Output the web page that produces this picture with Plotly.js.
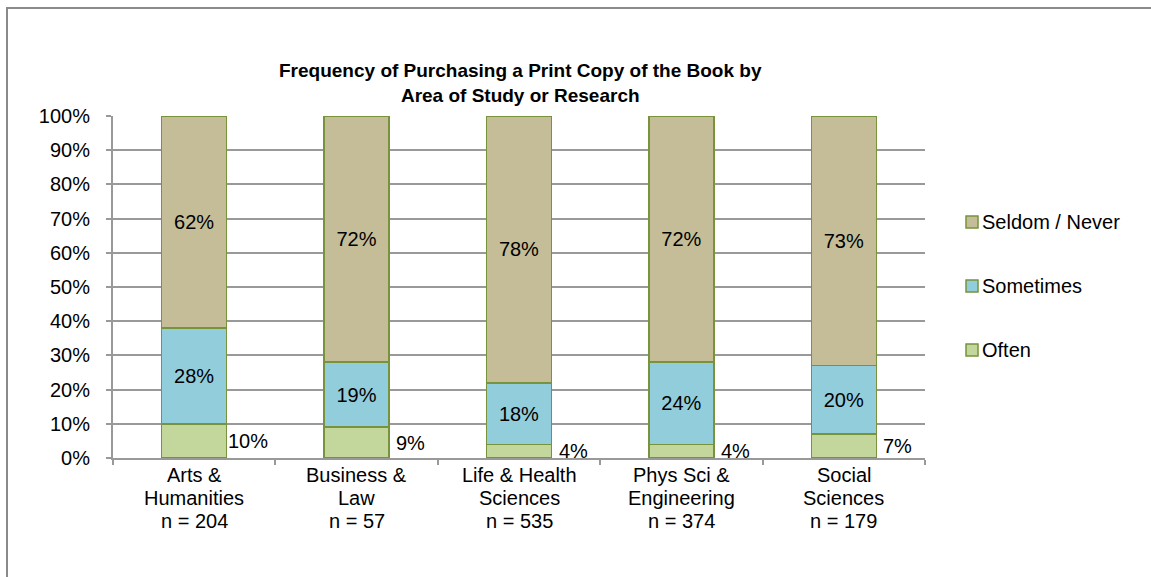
<!DOCTYPE html>
<html>
<head>
<meta charset="utf-8">
<script src="https://cdn.plot.ly/plotly-3.0.1.min.js"></script>
<style>
  html, body { margin: 0; padding: 0; background: #fff; overflow: hidden; }
  #wrap { position: relative; width: 1151px; height: 577px; overflow: hidden; }
  #chart { width: 1151px; height: 577px; }
  #frame { position: absolute; left: 6px; top: 7px; width: 1300px; height: 800px;
           border: 2px solid #8a8a8a; pointer-events: none; box-sizing: border-box; }
</style>
</head>
<body>
<div id="wrap">
  <div id="chart"></div>
  <div id="frame"></div>
</div>
<script>
const categories = ["Arts & Humanities", "Business & Law", "Life & Health Sciences",
                    "Phys Sci & Engineering", "Social Sciences"];
const labelLine1 = ["Arts &", "Business &", "Life & Health", "Phys Sci &", "Social"];
const labelLine2 = ["Humanities", "Law", "Sciences", "Engineering", "Sciences"];
const sampleSizes = ["n = 204", "n = 57", "n = 535", "n = 374", "n = 179"];
const seriesNames = ["Often", "Sometimes", "Seldom / Never"];
const seriesColors = ["#C3D69B", "#92CDDC", "#C4BD97"];
const often = [10, 9, 4, 4, 7];
const sometimes = [28, 19, 18, 24, 20];
const seldom = [62, 72, 78, 72, 73];
const yTickVals = [0, 10, 20, 30, 40, 50, 60, 70, 80, 90, 100];
const yTickText = ["0%", "10%", "20%", "30%", "40%", "50%", "60%", "70%", "80%", "90%", "100%"];

const FONT = "Liberation Sans, Arial, sans-serif";
const FS = 20;
const EDGE = "#77933C";
const edge = { color: EDGE, width: 1.5 };

function pct(arr) { return arr.map(v => v + "%"); }

const traces = [
  { name: seriesNames[0], x: categories, y: often, type: "bar",
    marker: { color: seriesColors[0], line: edge }, hoverinfo: "skip" },
  { name: seriesNames[1], x: categories, y: sometimes, type: "bar",
    marker: { color: seriesColors[1], line: edge },
    text: pct(sometimes), textposition: "inside", insidetextanchor: "middle",
    textfont: { family: FONT, size: FS, color: "#000" }, textangle: 0, hoverinfo: "skip" },
  { name: seriesNames[2], x: categories, y: seldom, type: "bar",
    marker: { color: seriesColors[2], line: edge },
    text: pct(seldom), textposition: "inside", insidetextanchor: "middle",
    textfont: { family: FONT, size: FS, color: "#000" }, textangle: 0, hoverinfo: "skip" }
];

const annotations = [];
const shapes = [];
categories.forEach((c, i) => {
  annotations.push({
    x: c, y: often[i] / 2, xref: "x", yref: "y",
    text: often[i] + "%", showarrow: false, xshift: 54,
    font: { family: FONT, size: FS, color: "#000" }
  });
  [labelLine1[i], labelLine2[i], sampleSizes[i]].forEach((t, k) => {
    annotations.push({
      x: c, y: 0, xref: "x", yref: "paper", yanchor: "middle",
      yshift: -17 - 23 * k, text: t, showarrow: false,
      font: { family: FONT, size: FS, color: "#000" }
    });
  });
});

// legend (top item = last series), drawn as squares + text
const legendTop = 0.69, legendStep = 0.187;
for (let j = 0; j < seriesNames.length; j++) {
  const s = seriesNames.length - 1 - j;
  const yy = legendTop - j * legendStep;
  shapes.push({
    type: "rect", xref: "paper", yref: "paper",
    xsizemode: "pixel", ysizemode: "pixel", xanchor: 1.0505, yanchor: yy,
    x0: 0, x1: 12, y0: -6, y1: 6,
    fillcolor: seriesColors[s], line: { color: EDGE, width: 1.5 }
  });
  annotations.push({
    x: 1.068, y: yy, xref: "paper", yref: "paper", xanchor: "left", yanchor: "middle",
    text: seriesNames[s], showarrow: false,
    font: { family: FONT, size: FS, color: "#000" }
  });
}

const layout = {
  width: 1151, height: 577,
  margin: { l: 113, r: 226, t: 116, b: 119 },
  paper_bgcolor: "#fff", plot_bgcolor: "#fff",
  barmode: "stack", bargap: 0.6,
  font: { family: FONT, size: FS, color: "#000" },
  title: {
    text: "<b>Frequency of Purchasing a Print Copy of the Book by<br>Area of Study or Research</b>",
    font: { family: FONT, size: 19, color: "#000" },
    xref: "container", x: 0.452, xanchor: "center",
    yref: "container", y: 0.866, yanchor: "top"
  },
  xaxis: {
    type: "category", tickson: "boundaries", ticks: "outside", ticklen: 5,
    tickcolor: "#999999", tickwidth: 2, showline: true, linecolor: "#999999", linewidth: 2,
    showgrid: false, showticklabels: false, fixedrange: true
  },
  yaxis: {
    range: [0, 100], tickvals: yTickVals, ticktext: yTickText,
    ticks: "outside", ticklen: 5, tickcolor: "#999999", tickwidth: 2,
    showline: true, linecolor: "#999999", linewidth: 2,
    showgrid: true, gridcolor: "#999999", gridwidth: 2, zeroline: false,
    tickfont: { family: FONT, size: FS }, ticklabelstandoff: 12, fixedrange: true
  },
  showlegend: false,
  annotations: annotations,
  shapes: shapes
};

Plotly.newPlot("chart", traces, layout, { displayModeBar: false, staticPlot: true });
</script>
</body>
</html>
